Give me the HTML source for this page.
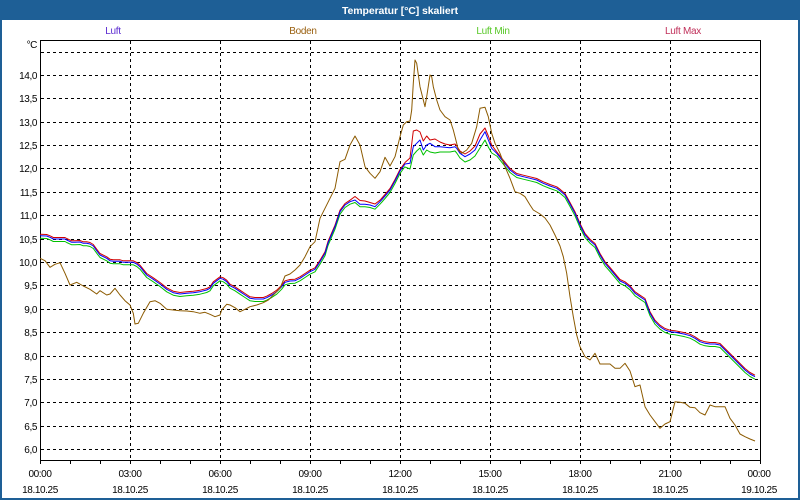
<!DOCTYPE html>
<html><head><meta charset="utf-8"><style>
html,body{margin:0;padding:0;background:#fff;}
svg{display:block;}
text{font-family:"Liberation Sans","DejaVu Sans",sans-serif;}
</style></head><body>
<svg width="800" height="500" viewBox="0 0 800 500" xmlns="http://www.w3.org/2000/svg">
<rect x="0" y="0" width="800" height="500" fill="#ffffff"/>
<rect x="1" y="1" width="798" height="498" fill="none" stroke="#1e5f96" stroke-width="2"/>
<rect x="0" y="0" width="800" height="20" fill="#1e5f96"/>
<text x="400" y="14" font-size="10.5" font-weight="bold" fill="#ffffff" text-anchor="middle" letter-spacing="-0.1">Temperatur [°C] skaliert</text>

<g font-size="10" text-anchor="middle" letter-spacing="-0.3">
<text x="113" y="34" fill="#5a2ad0">Luft</text>
<text x="303" y="34" fill="#9a6010">Boden</text>
<text x="493" y="34" fill="#58c828">Luft Min</text>
<text x="683" y="34" fill="#c0305a">Luft Max</text>
</g>

<g stroke="#000" stroke-width="1" stroke-dasharray="3,3" fill="none">
<line x1="41" y1="52.5" x2="760" y2="52.5"/>
<line x1="41" y1="75.5" x2="760" y2="75.5"/>
<line x1="41" y1="98.5" x2="760" y2="98.5"/>
<line x1="41" y1="122.5" x2="760" y2="122.5"/>
<line x1="41" y1="145.5" x2="760" y2="145.5"/>
<line x1="41" y1="168.5" x2="760" y2="168.5"/>
<line x1="41" y1="192.5" x2="760" y2="192.5"/>
<line x1="41" y1="215.5" x2="760" y2="215.5"/>
<line x1="41" y1="239.5" x2="760" y2="239.5"/>
<line x1="41" y1="262.5" x2="760" y2="262.5"/>
<line x1="41" y1="285.5" x2="760" y2="285.5"/>
<line x1="41" y1="309.5" x2="760" y2="309.5"/>
<line x1="41" y1="332.5" x2="760" y2="332.5"/>
<line x1="41" y1="356.5" x2="760" y2="356.5"/>
<line x1="41" y1="379.5" x2="760" y2="379.5"/>
<line x1="41" y1="402.5" x2="760" y2="402.5"/>
<line x1="41" y1="426.5" x2="760" y2="426.5"/>
<line x1="41" y1="449.5" x2="760" y2="449.5"/>
<line x1="130.5" y1="41" x2="130.5" y2="460"/>
<line x1="220.5" y1="41" x2="220.5" y2="460"/>
<line x1="310.5" y1="41" x2="310.5" y2="460"/>
<line x1="400.5" y1="41" x2="400.5" y2="460"/>
<line x1="490.5" y1="41" x2="490.5" y2="460"/>
<line x1="580.5" y1="41" x2="580.5" y2="460"/>
<line x1="670.5" y1="41" x2="670.5" y2="460"/>
</g>

<rect x="40.5" y="40.5" width="720" height="420" fill="none" stroke="#000" stroke-width="1"/>
<g stroke="#000" stroke-width="1">
<line x1="40.5" y1="461" x2="40.5" y2="464"/><line x1="70.5" y1="461" x2="70.5" y2="464"/><line x1="100.5" y1="461" x2="100.5" y2="464"/><line x1="130.5" y1="461" x2="130.5" y2="464"/><line x1="160.5" y1="461" x2="160.5" y2="464"/><line x1="190.5" y1="461" x2="190.5" y2="464"/><line x1="220.5" y1="461" x2="220.5" y2="464"/><line x1="250.5" y1="461" x2="250.5" y2="464"/><line x1="280.5" y1="461" x2="280.5" y2="464"/><line x1="310.5" y1="461" x2="310.5" y2="464"/><line x1="340.5" y1="461" x2="340.5" y2="464"/><line x1="370.5" y1="461" x2="370.5" y2="464"/><line x1="400.5" y1="461" x2="400.5" y2="464"/><line x1="430.5" y1="461" x2="430.5" y2="464"/><line x1="460.5" y1="461" x2="460.5" y2="464"/><line x1="490.5" y1="461" x2="490.5" y2="464"/><line x1="520.5" y1="461" x2="520.5" y2="464"/><line x1="550.5" y1="461" x2="550.5" y2="464"/><line x1="580.5" y1="461" x2="580.5" y2="464"/><line x1="610.5" y1="461" x2="610.5" y2="464"/><line x1="640.5" y1="461" x2="640.5" y2="464"/><line x1="670.5" y1="461" x2="670.5" y2="464"/><line x1="700.5" y1="461" x2="700.5" y2="464"/><line x1="730.5" y1="461" x2="730.5" y2="464"/><line x1="760.5" y1="461" x2="760.5" y2="464"/>
</g>

<g font-size="10" fill="#000" text-anchor="end" letter-spacing="-0.4">
<text x="37" y="48">°C</text>
<text x="37" y="79">14,0</text>
<text x="37" y="102">13,5</text>
<text x="37" y="126">13,0</text>
<text x="37" y="149">12,5</text>
<text x="37" y="172">12,0</text>
<text x="37" y="196">11,5</text>
<text x="37" y="219">11,0</text>
<text x="37" y="243">10,5</text>
<text x="37" y="266">10,0</text>
<text x="37" y="289">9,5</text>
<text x="37" y="313">9,0</text>
<text x="37" y="336">8,5</text>
<text x="37" y="360">8,0</text>
<text x="37" y="383">7,5</text>
<text x="37" y="406">7,0</text>
<text x="37" y="430">6,5</text>
<text x="37" y="453">6,0</text>
</g>

<g font-size="10" fill="#000" text-anchor="middle" letter-spacing="-0.4">
<text x="40" y="477">00:00</text><text x="40" y="493">18.10.25</text>
<text x="130" y="477">03:00</text><text x="130" y="493">18.10.25</text>
<text x="220" y="477">06:00</text><text x="220" y="493">18.10.25</text>
<text x="310" y="477">09:00</text><text x="310" y="493">18.10.25</text>
<text x="400" y="477">12:00</text><text x="400" y="493">18.10.25</text>
<text x="490" y="477">15:00</text><text x="490" y="493">18.10.25</text>
<text x="580" y="477">18:00</text><text x="580" y="493">18.10.25</text>
<text x="670" y="477">21:00</text><text x="670" y="493">18.10.25</text>
<text x="759" y="477">00:00</text><text x="759" y="493">19.10.25</text>
</g>

<g fill="none" stroke-width="1" stroke-linejoin="round">
<g stroke="#00c000">
<polyline transform="translate(0,2.5)" points="40,235.7 46.7,236 50,237.3 53.3,239 58.3,239 65,239 66.7,240 71.7,242.3 75,242.3 80,242 83.3,243.3 86.7,243.3 90,244 93.3,246 96.7,250.7 100,255 106.7,258.3 110,260.7 113.3,261.3 120,261.3 123.3,262.3 130,262.3 133.3,262.3 136.7,264 140,266.7 146.7,275 153.3,279.3 160,284 166.7,289.3 173.3,292.7 180,294 186.7,293.3 193.3,292.7 200,291.7 206.7,290 210,288.3 213.3,283.3 220,278.3 223.3,279.3 226.7,281.7 230,285.7 235,288.3 240,291.7 245,295 250,298.3 255,299 263.3,299 266.7,297.7 271.7,295 276.7,291.7 281.7,286.7 285,282.3 290,281 295,280.7 300,278.3 305,275 310,271.7 315,269.3 320,261.7 325,253.3 328,243 331,236 335,226.7 340,211.7 345,205 350,201.7 355,200 360,204.3 365,204.3 370,205 375,206.7 380,201.7 385,196 390,190 395,181 400,171 405,164"/>
<polyline points="405,167 410,169 413.3,155 416.7,151 420,148 423.3,155 426.7,150 430,152 435,153 440,152 445,152 450,152 455,151 456.7,153 460,158 465,162 470,160 475,156 480,148 485,140 488.3,147 491.7,153 496.7,156"/>
<polyline transform="translate(0,2.5)" points="496.7,153.3 503.3,161.7 510,170 516.7,175 523.3,176.7 530,178.3 536.7,180 543.3,183.3 550,186 556.7,188.3 560,190.7 565,195 570,204 575,213.3 580,225 585,235 590,240.7 595,245 600,255 605,263.3 610,269 615,275 620,281 625,283.3 630,287.3 635,293.3 640,296.7 645,300 650,313.3 655,321.7 660,326.7 665,330 670,331.7 675,332.3 680,333.3 685,334.3 690,335.7 695,338.3 700,341.7 705,343.3 710,344 715,344 720,345 725,350 730,355 735,360 740,365 745,370 750,374 755,376.7"/>
</g>
<g stroke="#d00000">
<polyline transform="translate(0,-1.5)" points="40,235.7 46.7,236 50,237.3 53.3,239 58.3,239 65,239 66.7,240 71.7,242.3 75,242.3 80,242 83.3,243.3 86.7,243.3 90,244 93.3,246 96.7,250.7 100,255 106.7,258.3 110,260.7 113.3,261.3 120,261.3 123.3,262.3 130,262.3 133.3,262.3 136.7,264 140,266.7 146.7,275 153.3,279.3 160,284 166.7,289.3 173.3,292.7 180,294 186.7,293.3 193.3,292.7 200,291.7 206.7,290 210,288.3 213.3,283.3 220,278.3 223.3,279.3 226.7,281.7 230,285.7 235,288.3 240,291.7 245,295 250,298.3 255,299 263.3,299 266.7,297.7 271.7,295 276.7,291.7 281.7,286.7 285,282.3 290,281 295,280.7 300,278.3 305,275 310,271.7 315,269.3 320,261.7 325,253.3 328,243 331,236 335,226.7 340,211.7 345,205 350,201.7 355,198 360,202 365,202.5 370,204 375,205.5 380,201.7 385,196 390,190 395,181 400,171 405,164"/>
<polyline points="405,162.5 410,158 413.3,131 416.7,130 420,132 423.3,141 426.7,136 430,140 435,139 440,142 445,144 450,145 455,144 456.7,146 460,151 465,154 470,151 475,146 480,134 485,128 488.3,136 491.7,145 496.7,151.8"/>
<polyline transform="translate(0,-1.5)" points="496.7,153.3 503.3,161.7 510,170 516.7,175 523.3,176.7 530,178.3 536.7,180 543.3,183.3 550,186 556.7,188.3 560,190.7 565,195 570,204 575,213.3 580,225 585,235 590,240.7 595,245 600,255 605,263.3 610,269 615,275 620,281 625,283.3 630,287.3 635,293.3 640,296.7 645,300 650,313.3 655,321.7 660,326.7 665,330 670,331.7 675,332.3 680,333.3 685,334.3 690,335.7 695,338.3 700,341.7 705,343.3 710,344 715,344 720,345 725,350 730,355 735,360 740,365 745,370 750,374 755,376.7"/>
</g>
<polyline stroke="#0000ff" points="40,235.7 46.7,236 50,237.3 53.3,239 58.3,239 65,239 66.7,240 71.7,242.3 75,242.3 80,242 83.3,243.3 86.7,243.3 90,244 93.3,246 96.7,250.7 100,255 106.7,258.3 110,260.7 113.3,261.3 120,261.3 123.3,262.3 130,262.3 133.3,262.3 136.7,264 140,266.7 146.7,275 153.3,279.3 160,284 166.7,289.3 173.3,292.7 180,294 186.7,293.3 193.3,292.7 200,291.7 206.7,290 210,288.3 213.3,283.3 220,278.3 223.3,279.3 226.7,281.7 230,285.7 235,288.3 240,291.7 245,295 250,298.3 255,299 263.3,299 266.7,297.7 271.7,295 276.7,291.7 281.7,286.7 285,282.3 290,281 295,280.7 300,278.3 305,275 310,271.7 315,269.3 320,261.7 325,253.3 328,243 331,236 335,226.7 340,211.7 345,205 350,201.7 355,200 360,204.3 365,204.3 370,205 375,206.7 380,201.7 385,196 390,190 395,181 400,171 405,164 410,163.3 413.3,146.7 416.7,143.3 420,140 423.3,150 426.7,145 430,143.3 435,146.7 440,146.7 445,147.3 450,147.7 455,146.7 456.7,148.3 460,153.3 465,156.7 470,154 475,150 480,140 485,131.7 488.3,140 491.7,148.3 496.7,153.3 503.3,161.7 510,170 516.7,175 523.3,176.7 530,178.3 536.7,180 543.3,183.3 550,186 556.7,188.3 560,190.7 565,195 570,204 575,213.3 580,225 585,235 590,240.7 595,245 600,255 605,263.3 610,269 615,275 620,281 625,283.3 630,287.3 635,293.3 640,296.7 645,300 650,313.3 655,321.7 660,326.7 665,330 670,331.7 675,332.3 680,333.3 685,334.3 690,335.7 695,338.3 700,341.7 705,343.3 710,344 715,344 720,345 725,350 730,355 735,360 740,365 745,370 750,374 755,376.7"/>
<polyline stroke="#8c5a00" points="40,258.3 45,260.7 50,267.3 55,264.3 60,262.7 65,273.3 70,285 76.7,282.3 83.3,286 90,289.3 96.7,294 100,290.7 106.7,295 110,294 115,288.3 120,295 125,300.7 130,305 133.3,313.3 135,324 138.3,323.3 143.3,313.3 150,301.7 155,300.7 160,303.3 166.7,309.3 173.3,310 180,310.7 186.7,311 193.3,311.7 200,313.3 205,312.3 210,314.3 215,316.7 220,315 221.7,310 226.7,304.3 230,305 235,307.7 240,311.7 245,309.3 250,306.7 256.7,305 263.3,302.7 268.3,300 273.3,295 280,288.3 285,276 290,274 295,270 300,265 305,256.7 310,246.7 315,241.7 320,218.3 325,208.3 330,198.3 335,188.3 340,161.7 345,159.3 350,145 355,136 360,145 365,166.7 370,173.3 375,178.3 380,171.7 385,157.3 390,166 395,156.7 400,136.7 403.3,125 406.7,121.7 410,121 411.7,110 413.3,83.3 415,60 416.7,63.3 420,86.7 423.3,100 425,106.7 426.7,96.7 430,75 431.7,76.7 433.3,86.7 436.7,100 440,110 445,116.7 450,120 453.3,130 456.7,143.3 458.3,150 461.7,153.3 466.7,150 471.7,143.3 476.7,126.7 480,108.3 485,107.3 488.3,116.7 491.7,133.3 495,143.3 500,153.3 505,166.7 510,178.3 515,191.7 520,193.3 525,196.7 530,205 533.3,210 540,214 545,218 550,225 555,235 560,246 563.3,256.7 566.7,273.3 570,296.7 573.3,316.7 576.7,335 580,346.7 585,356.7 590,360 595,353.3 600,364 610,364 615,368.3 620,368.3 625,363.3 630,371 635,386.7 640,385 645,406.7 650,415 655,421.7 660,428.3 665,424 670,421.7 675,401.7 680,402.3 685,403.3 690,407.3 695,407.7 700,412.7 705,415 710,405 715,406.7 720,406.7 725,406.7 730,418.3 735,425 740,434 745,436.7 750,439 755,441"/>
</g>
</svg>
</body></html>
